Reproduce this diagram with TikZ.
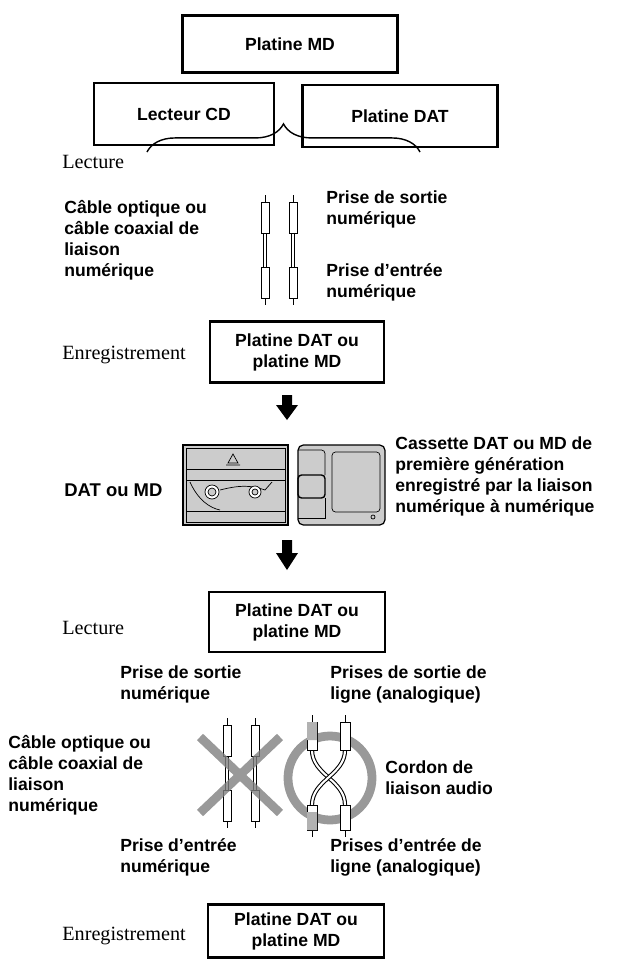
\documentclass[tikz,border=0pt]{standalone}
\usepackage{fontspec}
\setmainfont{Liberation Sans}
\newfontfamily\serf{Liberation Serif}
\usetikzlibrary{decorations.pathreplacing}

\tikzset{
  deck/.style={draw,line width=1.2pt,align=center,font=\bfseries,inner sep=0pt},
  lbl/.style={anchor=north west,align=left,font=\bfseries,inner sep=0pt},
  side/.style={anchor=west,inner sep=0pt},
  plug/.style={draw,fill=white,line width=0.5pt},
  bigarrow/.style={fill=black},
  pics/cable/.style={code={
    \draw (0,0) -- (0,7);
    \draw[plug] (-4,7) rectangle (4,38);
    \draw (-1.5,38) -- (-1.5,72) (1.5,38) -- (1.5,72);
    \draw[plug] (-4,72) rectangle (4,103);
    \draw (0,103) -- (0,110);
  }},
}

\begin{document}
\begin{tikzpicture}[x=0.02cm,y=-0.02cm,every node/.append style={font=\bfseries\fontsize{10.5}{14.5}\selectfont}]
\useasboundingbox (0,0) rectangle (637,967);

% top decks
\node[deck,minimum width=215*0.02cm,minimum height=57*0.02cm] (md) at (290,44) {Platine MD};
\node[deck,minimum width=180*0.02cm,minimum height=62*0.02cm] (cd) at (184,114) {Lecteur CD};
\node[deck,minimum width=195*0.02cm,minimum height=62*0.02cm] (dat) at (400,116) {Platine DAT};
\node[side] (lect1) at (62,162) {\mdseries\serf\fontsize{11.5}{14}\selectfont Lecture};
\coordinate (bl) at (147,152);
\coordinate (br) at (420,152);
\draw[line width=0.8pt,decorate,decoration={brace,amplitude=16pt}] (bl) -- (br);

% first cables
\pic at (265,195) {cable};
\pic at (293,195) {cable};
\node[lbl] (cab1) at (64,200) {Câble optique ou\\câble coaxial de\\liaison\\numérique};
\node[lbl] (out1) at (326,190) {Prise de sortie\\numérique};
\node[lbl] (in1) at (326,263) {Prise d'entrée\\numérique};

\node[deck,minimum width=174*0.02cm,minimum height=61*0.02cm] (rec1) at (297,352) {Platine DAT ou\\platine MD};
\node[side] (enr1) at (62,355) {\mdseries\serf\fontsize{11.5}{14}\selectfont Enregistrement};

% arrow
\fill[bigarrow] (282,395) -- (292,395) -- (292,405) -- (298,405) -- (287,420) -- (276,405) -- (282,405) -- cycle;

% DAT cassette
\draw[fill=gray!40,line width=0.7pt] (183,445) rectangle (288,525);
\draw (186,448) rectangle (285,522);
\draw (186,469) -- (285,469) (186,480) -- (285,480) (186,511) -- (285,511);
\draw (228,463) -- (233,454) -- (238,463) -- cycle (226,465) -- (240,465);
\draw (190,482) .. controls (198,500) and (210,508) .. (220,510) (220,490) .. controls (240,485) and (250,485) .. (265,490) -- (272,482);
\draw[fill=white] (212,492) circle (7);
\draw[fill=gray!40] (212,492) circle (4);
\draw[fill=white] (255,492) circle (6);
\draw[fill=gray!40] (255,492) circle (3);
% MD
\draw[fill=gray!40,line width=0.7pt,rounded corners=3pt] (298,445) rectangle (385,525);
\draw[rounded corners=2pt] (298,450) -- (325,450) -- (325,475);
\draw[rounded corners=2pt,line width=0.8pt] (298,475) rectangle (325,498);
\draw (325,498) -- (325,518) -- (298,518);
\draw[rounded corners=2pt] (332,452) rectangle (380,512);
\draw (373,517) circle (2);
\node[anchor=west,inner sep=0pt] (datmd) at (64,490) {DAT ou MD};
\node[lbl] (cass) at (395,436) {Cassette DAT ou MD de\\première génération\\enregistré par la liaison\\numérique à numérique};

\fill[bigarrow] (282,540) -- (292,540) -- (292,553) -- (298,553) -- (287,570) -- (276,553) -- (282,553) -- cycle;

\node[deck,minimum width=176*0.02cm,minimum height=60*0.02cm] (play2) at (297,622) {Platine DAT ou\\platine MD};
\node[side] (lect2) at (62,628) {\mdseries\serf\fontsize{11.5}{14}\selectfont Lecture};

\node[lbl] (out2) at (120,665) {Prise de sortie\\numérique};
\node[lbl] (lout) at (330,665) {Prises de sortie de\\ligne (analogique)};
\node[lbl] (cab2) at (8,735) {Câble optique ou\\câble coaxial de\\liaison\\numérique};
\node[lbl] (cord) at (385,760) {Cordon de\\liaison audio};
\node[lbl] (in2) at (120,838) {Prise d'entrée\\numérique};
\node[lbl] (lin) at (330,838) {Prises d'entrée de\\ligne (analogique)};

% forbidden link
\pic at (227,718) {cable};
\pic at (255,718) {cable};
\draw[gray,line width=5pt,opacity=0.8] (200,737) -- (280,813) (280,737) -- (200,813);

% analog cord
\draw[gray,line width=5pt,opacity=0.8] (330,778) circle (42);
\foreach \xa/\xb in {312/345,345/312}{
  \draw[line width=2.4pt] (\xa,750) .. controls (\xa,775) and (\xb,780) .. (\xb,805);
  \draw[white,line width=1.2pt] (\xa,750) .. controls (\xa,775) and (\xb,780) .. (\xb,805);
}
\foreach \xc in {312,345}{
  \draw (\xc,715) -- (\xc,722);
  \draw[plug] (\xc-5,722) rectangle (\xc+5,750);
  \draw[plug] (\xc-5,805) rectangle (\xc+5,830);
  \draw (\xc,830) -- (\xc,837);
}
\fill[gray!60] (307,722) rectangle (317,740) (307,812) rectangle (317,830);

\node[deck,minimum width=176*0.02cm,minimum height=53*0.02cm] (rec2) at (296,931) {Platine DAT ou\\platine MD};
\node[side] (enr2) at (62,936) {\mdseries\serf\fontsize{11.5}{14}\selectfont Enregistrement};
\end{tikzpicture}
\end{document}
